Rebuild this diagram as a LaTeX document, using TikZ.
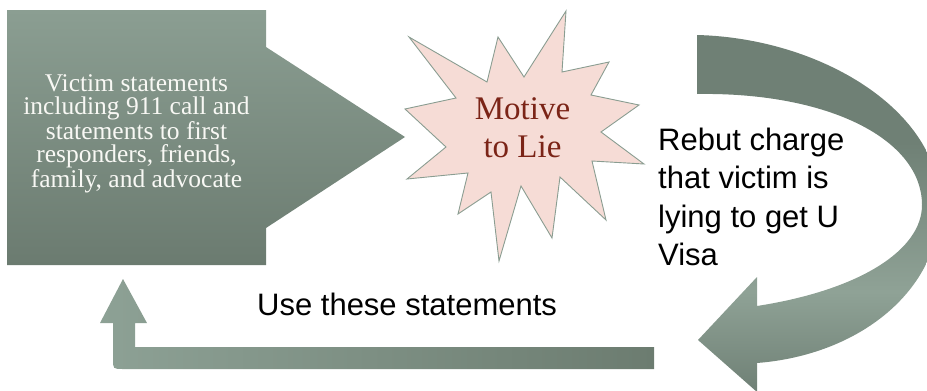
\documentclass[tikz,border=0pt]{standalone}
\usepackage{fontspec}
\setmainfont{Liberation Serif}
\setsansfont{Liberation Sans}
\definecolor{boxTop}{HTML}{8B9E92}
\definecolor{boxBot}{HTML}{6B7B70}
\definecolor{starFill}{HTML}{F6DCD6}
\definecolor{starLine}{HTML}{8A9D91}
\definecolor{lieRed}{HTML}{7B2417}
\definecolor{cvD}{HTML}{6F8075}
\definecolor{cvL}{HTML}{8FA296}
\definecolor{bL}{HTML}{8DA195}
\definecolor{bD}{HTML}{6C7C70}
\definecolor{boxText}{HTML}{F8F8F4}
\pgfdeclareverticalshading{curveshade}{100bp}{color(0bp)=(cvD); color(25bp)=(cvD); color(39bp)=(cvL); color(60bp)=(cvD); color(100bp)=(cvD)}
\tikzset{
  boxtext/.style={text=boxText, align=center, inner sep=0pt, font=\fontsize{25.5}{23.3}\selectfont},
  startext/.style={text=lieRed, align=center, inner sep=0pt, font=\fontsize{33}{38}\selectfont},
  sanstext/.style={text=black, inner sep=0pt, font=\sffamily\fontsize{31}{38.3}\selectfont},
  starshape/.style={fill=starFill, draw=starLine, line width=0.9pt, line join=miter},
}
\begin{document}
\begin{tikzpicture}[x=1pt,y=-1pt]
\useasboundingbox (0,0) rectangle (927,391);
\clip (0,0) rectangle (927,391);
% left box with arrow
\shade[top color=boxTop, bottom color=boxBot]
  (7,10) -- (266,10) -- (266,47) -- (405,137) -- (266,228) -- (266,265) -- (7,265) -- cycle;
\node[boxtext, anchor=north] (victim) at (136.5,74.5)
  {Victim statements\\including 911 call and\\statements to first\\responders, friends,\\family, and advocate};
% star
\draw[starshape] (409,37) -- (487,82) -- (498,37) -- (524,77) -- (566,11) -- (562,72)
  -- (609,62) -- (591,95) -- (639,105) -- (601,132) -- (644,164) -- (592,161)
  -- (606,220) -- (560,177) -- (552,238) -- (521,186) -- (499,261) -- (491,192)
  -- (458,214) -- (468,173) -- (407,179) -- (446,147) -- (405,109) -- (456,98) -- cycle;
\node[startext, anchor=north] (motive) at (522.5,97.5) {Motive\\to Lie};
% curved arrow
\shade[shading=curveshade]
  (697,35) .. controls (820,38) and (940,110) .. (940,205)
  .. controls (940,290) and (860,355) .. (757,363)
  -- (757,392) -- (698,340) -- (757,277) -- (757,306)
  .. controls (860,290) and (922,250) .. (922,205)
  .. controls (922,140) and (830,92) .. (697,94) -- cycle;
\node[sanstext, anchor=north west, align=left] (rebut) at (658,127.8)
  {Rebut charge\\that victim is\\lying to get U\\Visa};
% bent-up arrow
\shade[left color=bL, right color=bD]
  (654,347) -- (135,347) -- (135,323) -- (147,323) -- (123,279) -- (100,323)
  -- (113,323) -- (113,359) .. controls (113,369) .. (123,369) -- (654,369) -- cycle;
\node[sanstext, anchor=base west] (use) at (257,315) {Use these statements};
\end{tikzpicture}
\end{document}
